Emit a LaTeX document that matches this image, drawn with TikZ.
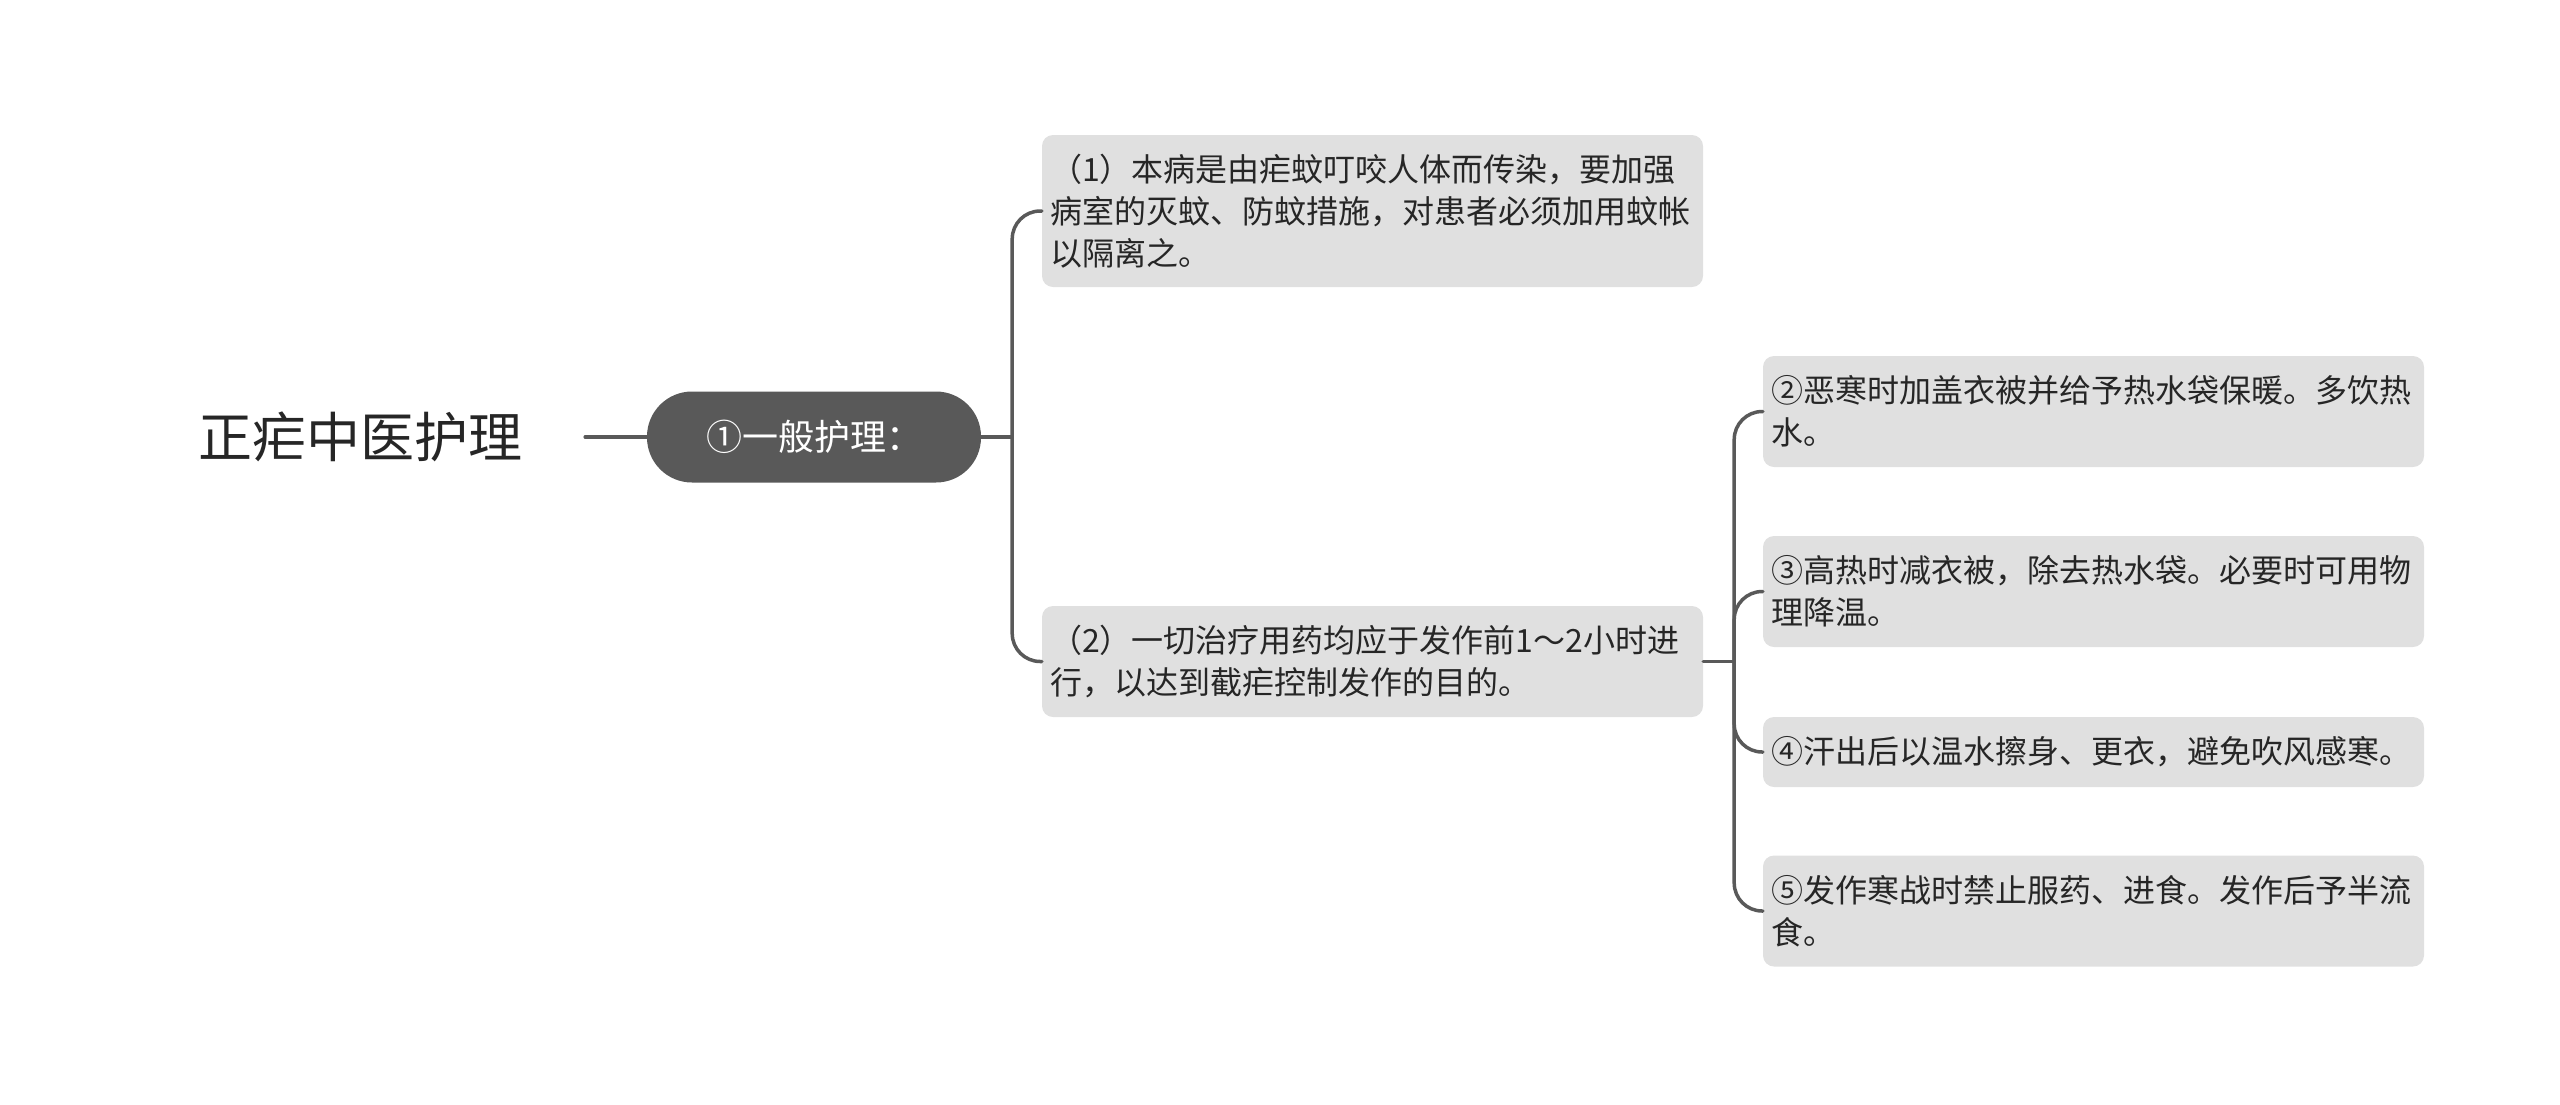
\documentclass[tikz,border=0pt]{standalone}
\usepackage{fontspec}
\newfontfamily\cjk{Noto Sans CJK SC}
\definecolor{boxfill}{HTML}{E0E0E0}
\definecolor{pillfill}{HTML}{595959}
\definecolor{linec}{HTML}{595959}
\definecolor{txt}{HTML}{262626}
\tikzset{
  rootnode/.style={font=\cjk\fontsize{54}{60}\selectfont, text=txt, inner xsep=63pt, inner ysep=0pt},
  pillnode/.style={font=\cjk\fontsize{36}{42}\selectfont, text=white, fill=pillfill, rounded corners=45pt,
     minimum width=334pt, minimum height=91pt, inner sep=0pt},
  leaf/.style={font=\cjk\fontsize{32}{42}\selectfont, text=txt, fill=boxfill, rounded corners=11pt,
     text width=645pt, align=left, inner xsep=8pt, inner ysep=0pt, minimum width=661pt},
  conn/.style={draw=linec, line width=3.5pt, rounded corners=28pt, line cap=round}
}
\begin{document}
\begin{tikzpicture}[x=1pt,y=-1pt]
\useasboundingbox (0,0) rectangle (2560,1104);
\node[rootnode] (root) at (360,437) {正疟中医护理};
\node[pillnode] (pill) at (814,437) {①一般护理：};
\node[leaf, minimum height=152pt] (b1) at (1372.5,211) {（1）本病是由疟蚊叮咬人体而传染，要加强\\病室的灭蚊、防蚊措施，对患者必须加用蚊帐\\以隔离之。};
\node[leaf, minimum height=111pt] (b2) at (1372.5,661.5) {（2）一切治疗用药均应于发作前1～2小时进\\行，以达到截疟控制发作的目的。};
\node[leaf, minimum height=111pt] (c2) at (2093.5,411.5) {②恶寒时加盖衣被并给予热水袋保暖。多饮热\\水。};
\node[leaf, minimum height=111pt] (c3) at (2093.5,591.5) {③高热时减衣被，除去热水袋。必要时可用物\\理降温。};
\node[leaf, minimum height=70pt] (c4) at (2093.5,752) {④汗出后以温水擦身、更衣，避免吹风感寒。};
\node[leaf, minimum height=111pt] (c5) at (2093.5,911) {⑤发作寒战时禁止服药、进食。发作后予半流\\食。};
\coordinate (j1) at ([xshift=31pt]pill.east);
\coordinate (j2) at ([xshift=31pt]b2.east);
\draw[conn] (root.east) -- (pill.west);
\draw[conn] (pill.east) -- (j1);
\draw[conn] (j1) |- (b1.west);
\draw[conn] (j1) |- (b2.west);
\draw[conn] (b2.east) -- (j2);
\foreach \c in {c2,c3,c4,c5}{
  \draw[conn] (j2) |- (\c.west);
}
\end{tikzpicture}
\end{document}
